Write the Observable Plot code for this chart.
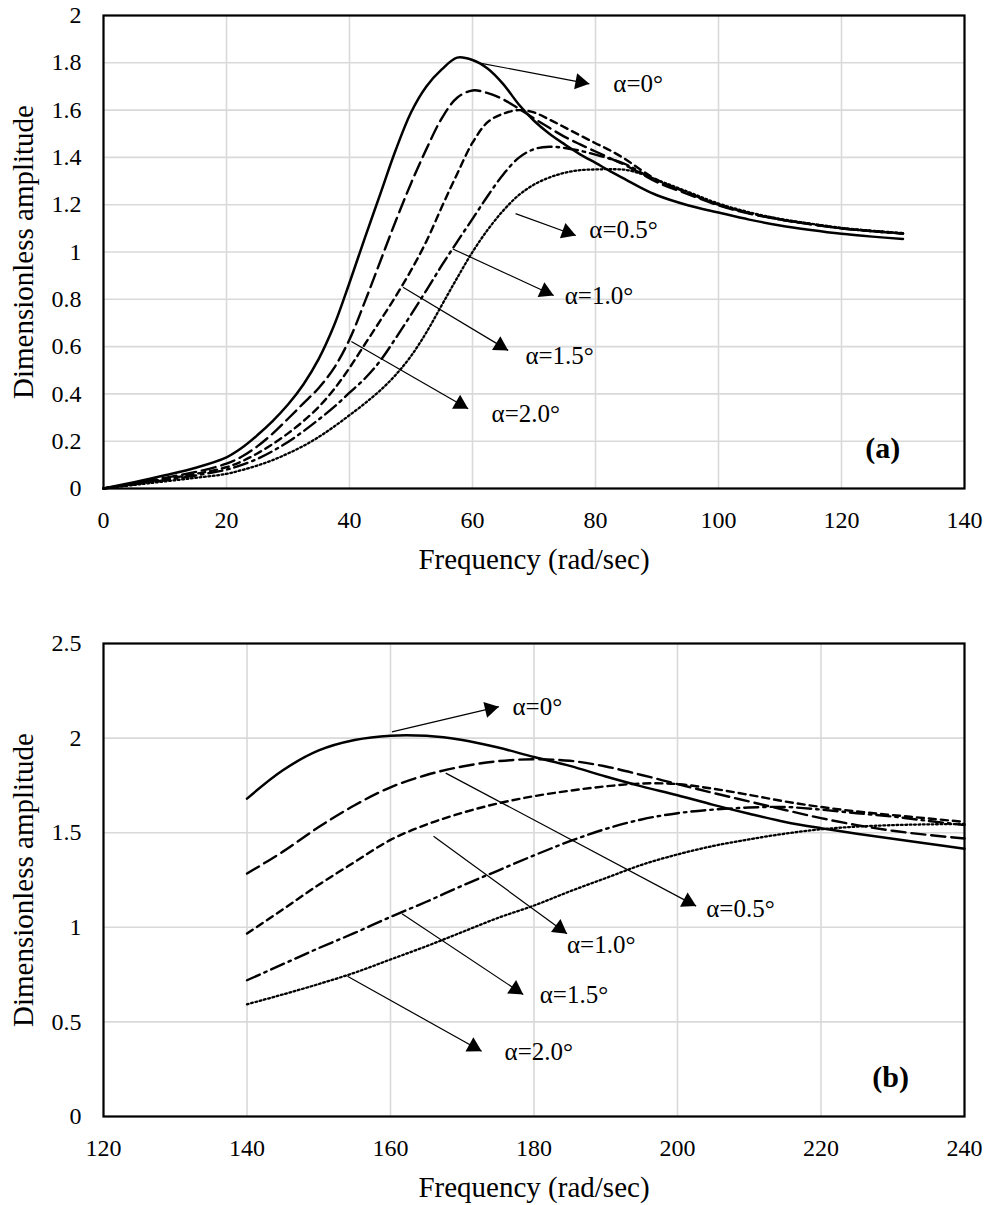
<!DOCTYPE html>
<html><head><meta charset="utf-8">
<script src="https://cdn.jsdelivr.net/npm/d3@7"></script>
<script src="https://cdn.jsdelivr.net/npm/@observablehq/plot@0.6"></script>
<style>
body{margin:0;background:#fff;}
#chart svg{display:block;}
</style></head><body><div id="chart"></div>
<script>
// ---------- DATA ----------
const seriesNames = ["α=0°", "α=0.5°", "α=1.0°", "α=1.5°", "α=2.0°"];

// Panel (a)
const freqA  = [0,5,10,15,20,22.5,25,27.5,30,32.5,35,37.5,40,42.5,45,47.5,50,52.5,55,57.5,60,62.5,65,67.5,70,72.5,75,77.5,80,82.5,85,87.5,90,95,100,105,110,115,120,125,130];
const ampA0  = [0,0.027,0.056,0.088,0.132,0.172,0.225,0.285,0.355,0.44,0.548,0.69,0.87,1.06,1.245,1.43,1.59,1.70,1.772,1.822,1.812,1.775,1.71,1.625,1.555,1.50,1.455,1.413,1.377,1.34,1.305,1.27,1.24,1.198,1.167,1.137,1.112,1.093,1.077,1.065,1.055];
const ampA05 = [0,0.022,0.045,0.07,0.105,0.135,0.178,0.232,0.295,0.36,0.425,0.51,0.63,0.79,0.96,1.13,1.29,1.435,1.565,1.652,1.683,1.672,1.645,1.607,1.565,1.525,1.487,1.455,1.425,1.395,1.365,1.33,1.295,1.245,1.197,1.162,1.137,1.117,1.10,1.088,1.078];
const ampA10 = [0,0.02,0.04,0.062,0.09,0.115,0.148,0.188,0.233,0.285,0.345,0.42,0.51,0.61,0.71,0.812,0.922,1.045,1.19,1.33,1.462,1.55,1.585,1.60,1.59,1.56,1.527,1.493,1.46,1.428,1.39,1.345,1.305,1.25,1.20,1.165,1.138,1.118,1.10,1.088,1.078];
const ampA15 = [0,0.018,0.035,0.055,0.08,0.10,0.125,0.158,0.197,0.242,0.292,0.345,0.405,0.465,0.54,0.635,0.735,0.838,0.943,1.043,1.14,1.238,1.328,1.398,1.435,1.445,1.44,1.428,1.412,1.393,1.37,1.335,1.30,1.25,1.20,1.165,1.138,1.118,1.10,1.088,1.078];
const ampA20 = [0,0.015,0.03,0.045,0.062,0.078,0.097,0.12,0.148,0.18,0.218,0.262,0.31,0.36,0.415,0.48,0.56,0.66,0.775,0.89,1.0,1.095,1.175,1.24,1.285,1.315,1.335,1.346,1.349,1.35,1.347,1.33,1.305,1.255,1.205,1.168,1.14,1.12,1.102,1.09,1.08];

// Panel (b)
const freqB  = [140,145,150,155,160,165,170,175,180,185,190,195,200,205,210,215,220,225,230,235,240];
const ampB0  = [1.68,1.83,1.935,1.99,2.013,2.012,1.99,1.95,1.90,1.853,1.797,1.745,1.698,1.647,1.60,1.557,1.524,1.495,1.468,1.442,1.415];
const ampB05 = [1.284,1.40,1.53,1.645,1.74,1.805,1.85,1.878,1.888,1.88,1.85,1.805,1.757,1.71,1.665,1.62,1.577,1.54,1.51,1.488,1.469];
const ampB10 = [0.967,1.095,1.225,1.345,1.462,1.543,1.605,1.655,1.693,1.722,1.745,1.76,1.757,1.732,1.70,1.665,1.636,1.612,1.593,1.575,1.557];
const ampB15 = [0.72,0.805,0.89,0.97,1.055,1.135,1.22,1.30,1.38,1.455,1.52,1.57,1.603,1.622,1.633,1.636,1.622,1.603,1.585,1.562,1.54];
const ampB20 = [0.593,0.645,0.70,0.76,0.83,0.90,0.975,1.05,1.115,1.19,1.26,1.33,1.385,1.43,1.465,1.495,1.518,1.532,1.54,1.544,1.546];

// Tick labels
const xTicksA = [0,20,40,60,80,100,120,140];
const yTicksA = [0,0.2,0.4,0.6,0.8,1,1.2,1.4,1.6,1.8,2];
const xTicksB = [120,140,160,180,200,220,240];
const yTicksB = [0,0.5,1,1.5,2,2.5];

// Annotations (data units): arrow start, arrow tip, label anchor
const annA_startX = [61,67,56.8,48.7,40.3];
const annA_startY = [1.80,1.162,1.013,0.851,0.622];
const annA_tipX   = [79.0,76.8,73.2,65.8,59.3];
const annA_tipY   = [1.711,1.07,0.816,0.584,0.337];
const annA_labX   = [82.9,79.0,75.0,68.6,63.1];
const annA_labY   = [1.712,1.091,0.816,0.562,0.316];

const annB_startX = [160.2,167.7,166.0,161.6,154.0];
const annB_startY = [2.033,1.815,1.481,1.072,0.741];
const annB_tipX   = [175.1,202.6,184.6,178.5,172.7];
const annB_tipY   = [2.166,1.112,0.966,0.645,0.345];
const annB_labX   = [177.0,204.0,184.6,180.8,175.9];
const annB_labY   = [2.166,1.099,0.904,0.64,0.34];

const tagA = "(a)", tagB = "(b)";
const tagAX = 126.7, tagAY = 0.168;
const tagBX = 229.7, tagBY = 0.208;

// ---------- STYLES ----------
const dashes = [null, "14,6", "7,5", "14,5,2.5,5", "1.8,2.6"];
const widths = [2.5, 2.4, 2.4, 2.4, 2.3];
const FONT = "'Liberation Serif','Times New Roman',Times,serif";

function panel(opt) {
  const W = 990, mL = 103, mR = 26;
  const {height, mTop, mBottom, xDomain, yDomain, xTicks, yTicks, freq, amps, ann, tag, tagX, tagY} = opt;
  const kx = (W - mL - mR) / (xDomain[1] - xDomain[0]);
  const ky = (height - mTop - mBottom) / (yDomain[1] - yDomain[0]);

  const lineMarks = amps.map((arr, i) =>
    Plot.line(freq.map((f, j) => ({x: f, y: arr[j]})), {
      x: "x", y: "y", stroke: "black", strokeWidth: widths[i],
      strokeDasharray: dashes[i] || undefined, curve: "catmull-rom"
    })
  );

  const arrows = seriesNames.map((name, i) => {
    const dxs = (ann.tipX[i] - ann.startX[i]) * kx;
    const dys = -(ann.tipY[i] - ann.startY[i]) * ky;
    const len = Math.hypot(dxs, dys);
    const ux = dxs / len, uy = dys / len;
    const back = 9.3;
    return {
      name,
      x1: ann.startX[i], y1: ann.startY[i], x2: ann.tipX[i], y2: ann.tipY[i],
      hx: ann.tipX[i] - ux * back / kx, hy: ann.tipY[i] + uy * back / ky,
      rot: Math.atan2(ux, -uy) * 180 / Math.PI,
      lx: ann.labX[i], ly: ann.labY[i]
    };
  });

  return Plot.plot({
    width: W, height,
    marginLeft: mL, marginRight: mR, marginTop: mTop, marginBottom: mBottom,
    style: {fontFamily: FONT, fontSize: "24px", color: "black", background: "white", overflow: "visible"},
    x: {domain: xDomain, label: null},
    y: {domain: yDomain, label: null},
    marks: [
      Plot.gridX(xTicks, {stroke: "#d9d9d9", strokeOpacity: 1, strokeWidth: 1.6}),
      Plot.gridY(yTicks, {stroke: "#d9d9d9", strokeOpacity: 1, strokeWidth: 1.6}),
      ...lineMarks,
      Plot.link(arrows, {x1: "x1", y1: "y1", x2: "x2", y2: "y2", stroke: "black", strokeWidth: 1.2}),
      Plot.dot(arrows, {x: "hx", y: "hy", symbol: "triangle", r: 6, fill: "black", stroke: "none", rotate: "rot"}),
      Plot.text(arrows, {x: "lx", y: "ly", text: "name", textAnchor: "start", lineAnchor: "middle", fontSize: 25, fill: "black"}),
      Plot.text([tag], {x: () => tagX, y: () => tagY, text: d => d, fontSize: 30, fontWeight: "bold", lineAnchor: "middle", fill: "black"}),
      Plot.frame({stroke: "black", strokeWidth: 2.2}),
      Plot.axisX(xTicks, {tickSize: 0, tickPadding: 22, fontSize: 24, tickFormat: d => String(d), label: null}),
      Plot.axisY(yTicks, {tickSize: 0, tickPadding: 22, fontSize: 24, tickFormat: d => String(d), label: null}),
      Plot.text(["Frequency (rad/sec)"], {frameAnchor: "bottom", textAnchor: "middle", lineAnchor: "bottom", dy: 80, fontSize: 29, fill: "black"}),
      Plot.text(["Dimensionless amplitude"], {frameAnchor: "left", textAnchor: "middle", rotate: -90, dx: -80, lineAnchor: "middle", fontSize: 29, fill: "black"})
    ]
  });
}

const chart = document.getElementById("chart");
chart.appendChild(panel({
  height: 600, mTop: 15, mBottom: 112,
  xDomain: [0, 140], yDomain: [0, 2],
  xTicks: xTicksA, yTicks: yTicksA,
  freq: freqA, amps: [ampA0, ampA05, ampA10, ampA15, ampA20],
  ann: {startX: annA_startX, startY: annA_startY, tipX: annA_tipX, tipY: annA_tipY, labX: annA_labX, labY: annA_labY},
  tag: tagA, tagX: tagAX, tagY: tagAY
}));
chart.appendChild(panel({
  height: 605, mTop: 43, mBottom: 89,
  xDomain: [120, 240], yDomain: [0, 2.5],
  xTicks: xTicksB, yTicks: yTicksB,
  freq: freqB, amps: [ampB0, ampB05, ampB10, ampB15, ampB20],
  ann: {startX: annB_startX, startY: annB_startY, tipX: annB_tipX, tipY: annB_tipY, labX: annB_labX, labY: annB_labY},
  tag: tagB, tagX: tagBX, tagY: tagBY
}));
</script></body></html>
